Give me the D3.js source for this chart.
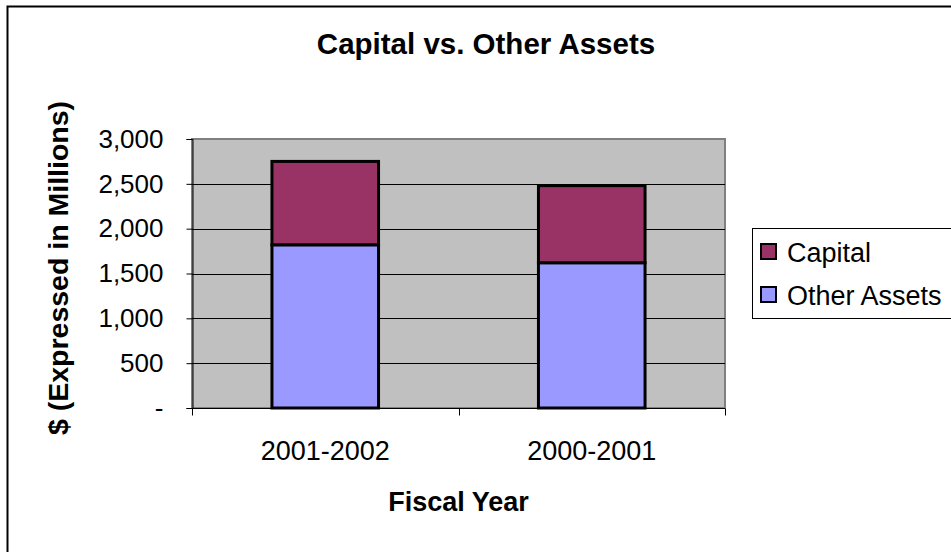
<!DOCTYPE html>
<html>
<head>
<meta charset="utf-8">
<script src="https://cdn.jsdelivr.net/npm/d3@7"></script>
<style>
  html, body { margin: 0; padding: 0; background: #fff; }
  svg { display: block; font-family: Arial, "Liberation Sans", sans-serif; }
</style>
</head>
<body>
<svg id="chart" width="951" height="552"></svg>
<script>
// Fiscal years (left to right) and stacked series values, $ millions
const fiscalYears = ["2001-2002", "2000-2001"];
const otherAssets = [1820, 1620];
const capital = [930, 860];
const seriesNames = ["Capital", "Other Assets"];
const seriesColors = { "Capital": "#993366", "Other Assets": "#9999FF" };
const yTicks = [0, 500, 1000, 1500, 2000, 2500, 3000];

const svg = d3.select("#chart");
const plot = { left: 192, right: 725, top: 139, bottom: 408 };

// Outer chart frame
svg.append("rect")
  .attr("x", 7.5).attr("y", 6.5)
  .attr("width", 960).attr("height", 560)
  .attr("fill", "#fff").attr("stroke", "#000").attr("stroke-width", 2);

const x = d3.scaleBand()
  .domain(fiscalYears)
  .range([plot.left, plot.right])
  .paddingInner(0.6)
  .paddingOuter(0.3);

const y = d3.scaleLinear()
  .domain([0, 3000])
  .range([plot.bottom, plot.top]);

// Plot background
svg.append("rect")
  .attr("x", plot.left).attr("y", plot.top)
  .attr("width", plot.right - plot.left).attr("height", plot.bottom - plot.top)
  .attr("fill", "#C0C0C0")
  .attr("stroke", "#808080").attr("stroke-width", 2);

// Horizontal gridlines
svg.append("g")
  .selectAll("line")
  .data(yTicks.filter(t => t > 0 && t < 3000))
  .join("line")
  .attr("x1", plot.left).attr("x2", plot.right)
  .attr("y1", d => Math.round(y(d)) + 0.5).attr("y2", d => Math.round(y(d)) + 0.5)
  .attr("stroke", "#000").attr("stroke-width", 1);

// Stacked bars
const rows = fiscalYears.map((fy, i) => ({ year: fy, "Other Assets": otherAssets[i], "Capital": capital[i] }));
const stack = d3.stack().keys(["Other Assets", "Capital"]);
const layers = stack(rows);

svg.append("g")
  .selectAll("g")
  .data(layers)
  .join("g")
  .attr("fill", d => seriesColors[d.key])
  .selectAll("rect")
  .data(d => d)
  .join("rect")
  .attr("x", d => x(d.data.year))
  .attr("y", d => y(d[1]))
  .attr("width", x.bandwidth())
  .attr("height", d => y(d[0]) - y(d[1]))
  .attr("stroke", "#000")
  .attr("stroke-width", 3);

// Y axis
const yAxis = d3.axisLeft(y)
  .tickValues(yTicks)
  .tickSize(6)
  .tickPadding(23)
  .tickFormat(d => d === 0 ? "-" : d3.format(",")(d));

const yg = svg.append("g")
  .attr("transform", `translate(${plot.left + 0.5},0)`)
  .call(yAxis);
yg.select(".domain").attr("stroke", "#000");
yg.selectAll(".tick line").attr("stroke", "#000");
yg.selectAll(".tick text")
  .attr("font-size", 26)
  .attr("font-family", "Arial, 'Liberation Sans', sans-serif")
  .attr("fill", "#000");

// X axis with category boundary ticks
const xg = svg.append("g")
  .attr("transform", `translate(0,${plot.bottom + 0.5})`);
xg.append("line")
  .attr("x1", plot.left).attr("x2", plot.right)
  .attr("stroke", "#000").attr("stroke-width", 1);
const mid = (x(fiscalYears[0]) + x.bandwidth() + x(fiscalYears[1])) / 2;
xg.selectAll("line.tick")
  .data([plot.left, mid, plot.right])
  .join("line")
  .attr("class", "tick")
  .attr("x1", d => Math.round(d) + 0.5).attr("x2", d => Math.round(d) + 0.5)
  .attr("y1", 0).attr("y2", 7)
  .attr("stroke", "#000");
xg.selectAll("text")
  .data(fiscalYears)
  .join("text")
  .attr("x", d => x(d) + x.bandwidth() / 2)
  .attr("y", 51.5)
  .attr("text-anchor", "middle")
  .attr("font-size", 27)
  .text(d => d);

// Titles
svg.append("text")
  .attr("x", 486).attr("y", 54)
  .attr("text-anchor", "middle")
  .attr("font-size", 29.5).attr("font-weight", "bold")
  .text("Capital vs. Other Assets");

svg.append("text")
  .attr("x", (plot.left + plot.right) / 2).attr("y", 511)
  .attr("text-anchor", "middle")
  .attr("font-size", 27).attr("font-weight", "bold")
  .text("Fiscal Year");

svg.append("text")
  .attr("transform", "translate(68,268) rotate(-90)")
  .attr("text-anchor", "middle")
  .attr("font-size", 28.5).attr("font-weight", "bold")
  .text("$ (Expressed in Millions)");

// Legend
const legend = svg.append("g").attr("transform", "translate(752,228)");
legend.append("rect")
  .attr("x", 0.5).attr("y", 0.5)
  .attr("width", 220).attr("height", 90)
  .attr("fill", "#fff").attr("stroke", "#000").attr("stroke-width", 1);
const items = legend.selectAll("g.item")
  .data(seriesNames)
  .join("g")
  .attr("class", "item")
  .attr("transform", (d, i) => `translate(0,${24 + i * 43})`);
items.append("rect")
  .attr("x", 9).attr("y", -8)
  .attr("width", 15).attr("height", 15)
  .attr("fill", d => seriesColors[d])
  .attr("stroke", "#000").attr("stroke-width", 2);
items.append("text")
  .attr("x", 35).attr("y", 10)
  .attr("font-size", 27)
  .text(d => d);
</script>
</body>
</html>
